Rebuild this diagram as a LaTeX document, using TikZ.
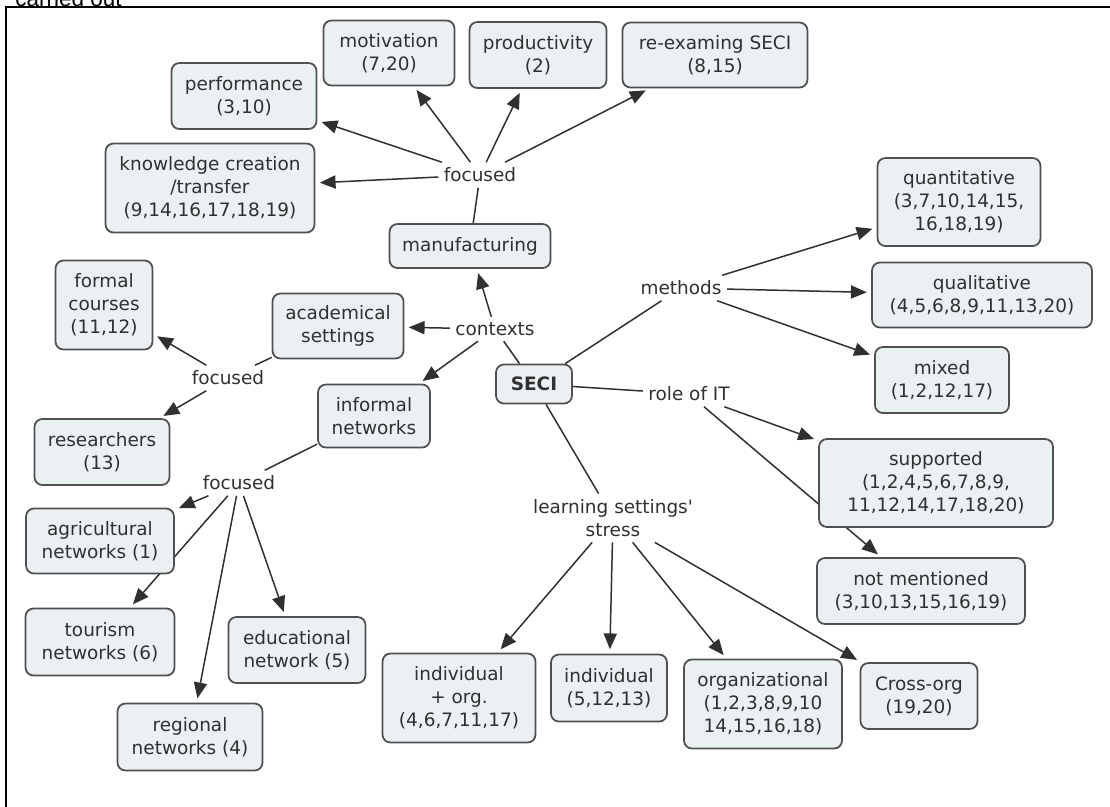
\documentclass[tikz,border=0pt]{standalone}
\usepackage{fontspec}
\setmainfont{DejaVu Sans}
\newfontfamily\capfont{Liberation Sans}
\usetikzlibrary{arrows.meta, backgrounds}
\definecolor{cfill}{HTML}{EBF0F3}
\definecolor{cline}{HTML}{505050}
\definecolor{ctext}{HTML}{303030}

\begin{document}
\begin{tikzpicture}[x=0.02cm, y=-0.02cm,
  font=\fontsize{10.5}{13.2}\selectfont,
  concept/.style={draw=cline, line width=1pt, fill=cfill, rounded corners=4.5pt,
    align=center, inner sep=1pt, text=ctext},
  linkword/.style={inner sep=3pt, align=center, text=ctext},
  link/.style={draw=ctext, line width=0.85pt},
  linkarr/.style={link, -{Triangle[length=9pt, width=7.5pt]}, shorten >=2.5pt}]
 \useasboundingbox (0,0) rectangle (1110,806);
 \draw [line width=1.2pt] (6,830) -- (6,7) -- (1130,7);
 \node [anchor=base west, inner sep=0, font=\capfont\fontsize{12.8}{14}\selectfont] (cut) at (15,6) {carried out};

 % centre and link words
 \node [concept, font=\fontsize{10.5}{13.2}\selectfont\bfseries, minimum width=1.52cm, minimum height=0.78cm] (seci) at (534,384) {SECI};
 \node [linkword] (contexts) at (495,329) {contexts};
 \node [linkword] (methods) at (681,288) {methods};
 \node [linkword] (roleit) at (689,394) {role of IT};
 \node [linkword] (stress) at (613,518) {learning settings\textquotesingle\\stress};
 \node [linkword] (focA) at (480,175) {focused};
 \node [linkword] (focB) at (228,378) {focused};
 \node [linkword] (focC) at (239,483) {focused};

 % contexts
 \node [concept, minimum width=3.22cm, minimum height=0.88cm] (manuf) at (470,246) {manufacturing};
 \node [concept, minimum width=2.62cm, minimum height=1.30cm] (acad) at (338,326) {academical\\settings};
 \node [concept, minimum width=2.24cm, minimum height=1.26cm] (informal) at (374,416) {informal\\networks};

 \node [concept, minimum width=4.18cm, minimum height=1.78cm] (know) at (210,188) {knowledge creation\\/transfer\\(9,14,16,17,18,19)};
 \node [concept, minimum width=2.90cm, minimum height=1.32cm] (perf) at (244,96) {performance\\(3,10)};
 \node [concept, minimum width=2.62cm, minimum height=1.30cm] (motiv) at (389,53) {motivation\\(7,20)};
 \node [concept, minimum width=2.74cm, minimum height=1.32cm] (prod) at (538,55) {productivity\\(2)};
 \node [concept, minimum width=3.70cm, minimum height=1.30cm] (reexam) at (715,55) {re-examing SECI\\(8,15)};

 \node [concept, minimum width=1.94cm, minimum height=1.78cm] (formal) at (104,305) {formal\\courses\\(11,12)};
 \node [concept, minimum width=2.70cm, minimum height=1.32cm] (research) at (102,452) {researchers\\(13)};

 \node [concept, minimum width=2.96cm, minimum height=1.30cm] (agri) at (100,541) {agricultural\\networks (1)};
 \node [concept, minimum width=2.98cm, minimum height=1.34cm] (tour) at (100,642) {tourism\\networks (6)};
 \node [concept, minimum width=2.74cm, minimum height=1.32cm] (educ) at (297,650) {educational\\network (5)};
 \node [concept, minimum width=2.90cm, minimum height=1.34cm] (region) at (190,737) {regional\\networks (4)};

 % methods and role of IT
 \node [concept, minimum width=3.26cm, minimum height=1.76cm] (quant) at (959,202) {quantitative\\(3,7,10,14,15,\\16,18,19)};
 \node [concept, minimum width=4.40cm, minimum height=1.30cm] (qual) at (982,295) {qualitative\\(4,5,6,8,9,11,13,20)};
 \node [concept, minimum width=2.68cm, minimum height=1.32cm] (mixed) at (942,380) {mixed\\(1,2,12,17)};
 \node [concept, minimum width=4.68cm, minimum height=1.76cm] (supp) at (936,483) {supported\\(1,2,4,5,6,7,8,9,\\11,12,14,17,18,20)};
 \node [concept, minimum width=4.16cm, minimum height=1.32cm] (notm) at (921,591) {not mentioned\\(3,10,13,15,16,19)};

 % learning settings
 \node [concept, minimum width=3.06cm, minimum height=1.78cm] (indorg) at (459,698) {individual\\+ org.\\(4,6,7,11,17)};
 \node [concept, minimum width=2.32cm, minimum height=1.34cm] (indiv) at (609,688) {individual\\(5,12,13)};
 \node [concept, minimum width=3.16cm, minimum height=1.78cm] (orgz) at (763,704) {organizational\\(1,2,3,8,9,10\\14,15,16,18)};
 \node [concept, minimum width=2.34cm, minimum height=1.32cm] (cross) at (919,696) {Cross-org\\(19,20)};

 \begin{pgfonlayer}{background}
 \draw [link] (seci) -- (contexts);
 \draw [linkarr] (contexts) -- (manuf);
 \draw [linkarr] (contexts) -- (acad);
 \draw [linkarr] (contexts) -- (informal);

 \draw [link] (manuf) -- (focA);
 \foreach \t in {know,perf,motiv,prod,reexam}
   \draw [linkarr] (focA) -- (\t);
 \draw [link] (acad) -- (focB);
 \foreach \t in {formal,research}
   \draw [linkarr] (focB) -- (\t);
 \draw [link] (informal) -- (focC);
 \foreach \t in {agri,tour,region,educ}
   \draw [linkarr] (focC) -- (\t);

 \draw [link] (seci) -- (methods);
 \foreach \t in {quant,qual,mixed}
   \draw [linkarr] (methods) -- (\t);
 \draw [link] (seci) -- (roleit);
 \foreach \t in {supp,notm}
   \draw [linkarr] (roleit) -- (\t);
 \draw [link] (seci) -- (stress);
 \foreach \t in {indorg,indiv,orgz,cross}
   \draw [linkarr] (stress) -- (\t);
 \end{pgfonlayer}
\end{tikzpicture}
\end{document}
